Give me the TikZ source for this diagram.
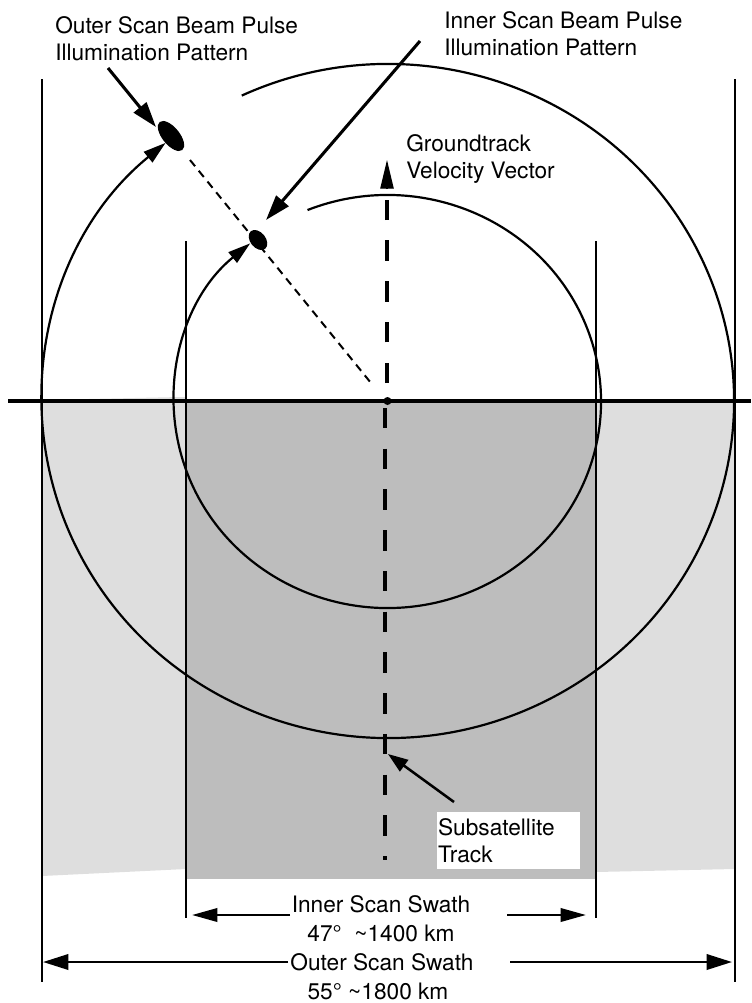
\documentclass[tikz,border=0pt]{standalone}
\usepackage{fontspec}
\setmainfont{TeX Gyre Heros}
\usetikzlibrary{arrows.meta,shapes.geometric}
\definecolor{lightswath}{HTML}{DEDEDE}
\definecolor{darkswath}{HTML}{BDBDBD}
\tikzset{
  label/.style={anchor=base west,inner sep=0pt,align=left,font=\fontsize{17}{20.25}\selectfont},
  centerlabel/.style={anchor=base,inner sep=0pt,font=\fontsize{17}{20.25}\selectfont},
  rule/.style={line width=1.5pt,black},
  orbit/.style={line width=1.65pt,black},
  spot/.style={ellipse,fill=black,inner sep=0pt},
  pointer/.style={line width=2.3pt,-{Triangle[length=19pt,width=12pt]}},
  subpointer/.style={line width=1.9pt,-{Triangle[length=15pt,width=10.5pt]}},
  swatharrow/.style={line width=1.9pt,-{Triangle[length=19pt,width=10pt]}},
  outerarrow/.style={line width=1.9pt,-{Triangle[length=19pt,width=11.5pt]}},
  trackdash/.style={line width=3pt,dash pattern=on 15.3pt off 15.25pt},
  beamdash/.style={line width=1.5pt,dash pattern=on 6pt off 4.4pt},
}
\begin{document}
\begin{tikzpicture}[x=0.75pt,y=0.75pt]
\path[use as bounding box] (0,0) rectangle (751,-1003);
% swath fills
\fill[lightswath] (42,-400) -- (181,-397) -- (186,-397) -- (186,-869) -- (42,-876) -- cycle;
\fill[lightswath] (596,-401) -- (735,-401) -- (735,-869) -- (596,-872) -- cycle;
\fill[darkswath] (186,-401) rectangle (596,-879);
% coordinates
\coordinate (lineL) at (8,-401);
\coordinate (lineR) at (751,-401);
\coordinate (outerLtop) at (42,-79);
\coordinate (outerLbot) at (42,-982);
\coordinate (outerRtop) at (735,-79);
\coordinate (outerRbot) at (735,-982);
\coordinate (innerLtop) at (186,-241);
\coordinate (innerLbot) at (186,-918);
\coordinate (innerRtop) at (596,-241);
\coordinate (innerRbot) at (596,-918);
% ellipses of the scans
\draw[orbit,-{Triangle[length=17pt,width=10pt]}] (388,-401) ++(115:346 and 337)
  arc[start angle=115,end angle=-230,x radius=346,y radius=337];
\draw[orbit,-{Triangle[length=17pt,width=10pt]}] (387.5,-401.5) ++(112:213.5 and 206.5)
  arc[start angle=112,end angle=-230,x radius=213.5,y radius=206.5];
% swath edges
\draw[rule] (outerLtop) -- (outerLbot);
\draw[rule] (outerRtop) -- (outerRbot);
\draw[rule] (innerLtop) -- (innerLbot);
\draw[rule] (innerRtop) -- (innerRbot);
% scan line
\draw[line width=3pt] (lineL) -- (lineR);
\node[circle,fill=black,inner sep=0pt,minimum size=6pt] (nadir) at (387.5,-401) {};
% beam spots
\node[spot,minimum width=27pt,minimum height=13pt,rotate=-51] (outerSpot) at (171,-136) {};
\node[spot,minimum width=17pt,minimum height=11.5pt,rotate=-51] (innerSpot) at (258,-240) {};
\coordinate (beamStart) at (190,-160);
\coordinate (beamEnd) at (371,-383);
\draw[beamdash] (beamStart) -- (beamEnd);
% ground track
\coordinate (trackA) at (387,-383);
\coordinate (trackB) at (387,-200);
\coordinate (trackTip) at (387,-160);
\coordinate (trackBase) at (387,-189);
\coordinate (lowA) at (385,-408);
\coordinate (lowB) at (385,-860);
\draw[trackdash] (trackA) -- (trackB);
\draw[line width=1pt,-{Triangle[length=21.5pt,width=10pt]}] (trackBase) -- (trackTip);
\draw[trackdash] (lowA) -- (lowB);
% labels
\node[label] (outerLabel) at (55,-60) {Outer Scan Beam Pulse\\Illumination Pattern};
\node[label] (innerLabel) at (444,-55) {Inner Scan Beam Pulse\\Illumination Pattern};
\node[label] (velLabel) at (406,-178) {Groundtrack\\Velocity Vector};
\node[anchor=north west,fill=white,inner xsep=1pt,inner ysep=0pt,minimum height=42.75pt,
  text width=105.25pt,align=left,font=\fontsize{17}{20.25}\selectfont] (subLabel) at (436.5,-812) {Subsatellite\\Track};
\node[centerlabel] (innerSwath) at (381,-912) {Inner Scan Swath};
\node[centerlabel] (innerAngle) at (381,-941) {47\textdegree\ \ \textasciitilde1400 km};
\node[centerlabel] (outerSwath) at (382,-970) {Outer Scan Swath};
\node[centerlabel] (outerAngle) at (378,-999) {55\textdegree\ \textasciitilde1800 km};
% pointers
\coordinate (p1s) at (108,-68);
\coordinate (p1e) at (156,-127);
\coordinate (p2s) at (420,-41);
\coordinate (p2e) at (266,-220);
\coordinate (p3s) at (454,-802);
\coordinate (p3e) at (388,-754);
\draw[pointer] (p1s) -- (p1e);
\draw[pointer] (p2s) -- (p2e);
\draw[subpointer] (p3s) -- (p3e);
% swath arrows
\coordinate (isL) at (290,-915);
\coordinate (isLt) at (192,-915);
\coordinate (isR) at (507,-915);
\coordinate (isRt) at (586,-915);
\coordinate (osL) at (288,-962);
\coordinate (osLt) at (43,-962);
\coordinate (osR) at (510,-962);
\coordinate (osRt) at (732,-962);
\draw[swatharrow] (isL) -- (isLt);
\draw[swatharrow] (isR) -- (isRt);
\draw[outerarrow] (osL) -- (osLt);
\draw[outerarrow] (osR) -- (osRt);
\end{tikzpicture}
\end{document}
